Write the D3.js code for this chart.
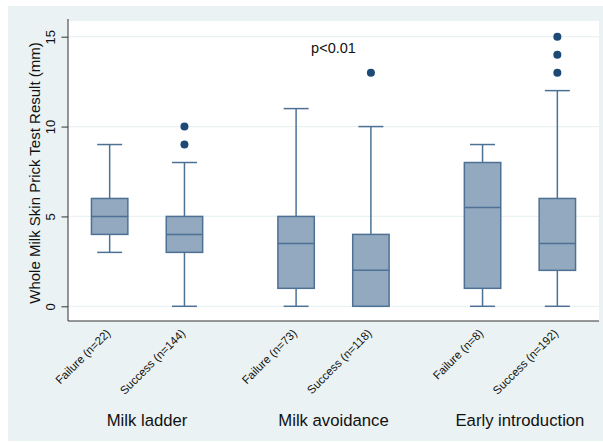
<!DOCTYPE html>
<html>
<head>
<meta charset="utf-8">
<script src="https://cdn.jsdelivr.net/npm/d3@7"></script>
<style>
  body { margin: 0; background: #fff; }
  text { font-family: "Liberation Sans", Arial, Helvetica, sans-serif; fill: #111; }
</style>
</head>
<body>
<div id="chart"></div>
<script>
'use strict';
// data
const groups = ["Milk ladder", "Milk avoidance", "Early introduction"];
const outcomes = ["Failure", "Success"];
const sampleSizes = [22, 144, 73, 118, 8, 192];
// [lower whisker, q1, median, q3, upper whisker]
const boxStats = [
  [3, 4, 5, 6, 9],
  [0, 3, 4, 5, 8],
  [0, 1, 3.5, 5, 11],
  [0, 0, 2, 4, 10],
  [0, 1, 5.5, 8, 9],
  [0, 2, 3.5, 6, 12]
];
const outliers = [[], [9, 10], [], [13], [], [13, 14, 15]];
const yTicks = [0, 5, 10, 15];
const annotation = "p<0.01";

(function () {
  const W = 603, H = 442;
  const plot = {left: 68, right: 599, top: 21, bottom: 321};
  const boxFill = "#93a9bf", boxLine = "#4d7195", dotColor = "#1c4a74";

  const svg = d3.select("#chart").append("svg")
    .attr("width", W).attr("height", H);

  // outer graph region
  svg.append("rect").attr("x", 8).attr("y", 6)
    .attr("width", W - 8).attr("height", H - 7)
    .attr("fill", "#eaf2f3");
  svg.append("rect").attr("x", plot.left).attr("y", plot.top)
    .attr("width", plot.right - plot.left).attr("height", plot.bottom - plot.top)
    .attr("fill", "#fff");

  const y = d3.scaleLinear().domain([0, 15]).range([306.3, 36.7]);
  const xGroup = d3.scalePoint().domain(groups).range([plot.left, plot.right]).padding(0.424);
  const xInner = d3.scalePoint().domain(outcomes).range([-37.4, 37.4]);

  const boxes = [];
  groups.forEach((g, gi) => {
    outcomes.forEach((o, oi) => {
      const i = gi * 2 + oi;
      boxes.push({
        group: g, outcome: o, n: sampleSizes[i],
        cx: xGroup(g) + xInner(o),
        s: boxStats[i], out: outliers[i]
      });
    });
  });

  // gridlines
  svg.append("g").selectAll("line").data(yTicks).join("line")
    .attr("x1", plot.left).attr("x2", plot.right)
    .attr("y1", d => y(d)).attr("y2", d => y(d))
    .attr("stroke", "#eaf2f3").attr("stroke-width", 1.2);

  // y axis
  const yAxis = svg.append("g")
    .attr("transform", `translate(${plot.left},0)`)
    .call(d3.axisLeft(y).tickValues(yTicks).tickSize(6.5).tickPadding(0).tickSizeOuter(0));
  yAxis.select(".domain").remove();
  yAxis.selectAll(".tick line").attr("stroke", "#333");
  yAxis.selectAll(".tick text").remove();
  yAxis.selectAll(".tick").append("text")
    .attr("transform", "translate(-13,0) rotate(-90)")
    .attr("text-anchor", "middle")
    .attr("y", 0)
    .style("font-size", "13px")
    .text(d => d);

  // axis lines
  svg.append("line").attr("x1", plot.left).attr("x2", plot.left)
    .attr("y1", plot.top - 2).attr("y2", plot.bottom)
    .attr("stroke", "#333").attr("stroke-width", 1);
  svg.append("line").attr("x1", plot.left).attr("x2", plot.right)
    .attr("y1", plot.bottom).attr("y2", plot.bottom)
    .attr("stroke", "#333").attr("stroke-width", 1);

  svg.append("text")
    .attr("transform", `translate(40,${(plot.top + plot.bottom) / 2 + 2}) rotate(-90)`)
    .attr("text-anchor", "middle")
    .style("font-size", "15px")
    .text("Whole Milk Skin Prick Test Result (mm)");

  const boxW = 36.4, capW = 25;
  const bg = svg.append("g").selectAll("g").data(boxes).join("g");
  // whiskers
  bg.append("line")
    .attr("x1", d => d.cx).attr("x2", d => d.cx)
    .attr("y1", d => y(d.s[0])).attr("y2", d => y(d.s[1]))
    .attr("stroke", boxLine).attr("stroke-width", 1.5);
  bg.append("line")
    .attr("x1", d => d.cx).attr("x2", d => d.cx)
    .attr("y1", d => y(d.s[3])).attr("y2", d => y(d.s[4]))
    .attr("stroke", boxLine).attr("stroke-width", 1.5);
  bg.append("line")
    .attr("x1", d => d.cx - capW / 2).attr("x2", d => d.cx + capW / 2)
    .attr("y1", d => y(d.s[0])).attr("y2", d => y(d.s[0]))
    .attr("stroke", boxLine).attr("stroke-width", 1.5);
  bg.append("line")
    .attr("x1", d => d.cx - capW / 2).attr("x2", d => d.cx + capW / 2)
    .attr("y1", d => y(d.s[4])).attr("y2", d => y(d.s[4]))
    .attr("stroke", boxLine).attr("stroke-width", 1.5);
  // box
  bg.append("rect")
    .attr("x", d => d.cx - boxW / 2).attr("width", boxW)
    .attr("y", d => y(d.s[3])).attr("height", d => y(d.s[1]) - y(d.s[3]))
    .attr("fill", boxFill).attr("stroke", boxLine).attr("stroke-width", 1.5);
  bg.append("line")
    .attr("x1", d => d.cx - boxW / 2).attr("x2", d => d.cx + boxW / 2)
    .attr("y1", d => y(d.s[2])).attr("y2", d => y(d.s[2]))
    .attr("stroke", boxLine).attr("stroke-width", 1.5);
  // outliers
  bg.selectAll("circle").data(d => d.out.map(v => ({cx: d.cx, v: v}))).join("circle")
    .attr("cx", d => d.cx).attr("cy", d => y(d.v)).attr("r", 4)
    .attr("fill", dotColor);

  // x labels
  svg.append("g").selectAll("text").data(boxes).join("text")
    .attr("transform", d => `translate(${d.cx + 1.5},334) rotate(-45)`)
    .attr("text-anchor", "end")
    .style("font-size", "11.5px")
    .text(d => `${d.outcome} (n=${d.n})`);

  svg.append("g").selectAll("text").data(groups).join("text")
    .attr("x", d => xGroup(d)).attr("y", 426)
    .attr("text-anchor", "middle")
    .style("font-size", "16.7px")
    .text(d => d);

  svg.append("text")
    .attr("x", xGroup(groups[1])).attr("y", y(14) - 1.5)
    .attr("text-anchor", "middle")
    .style("font-size", "14.5px")
    .text(annotation);
})();
</script>
</body>
</html>
